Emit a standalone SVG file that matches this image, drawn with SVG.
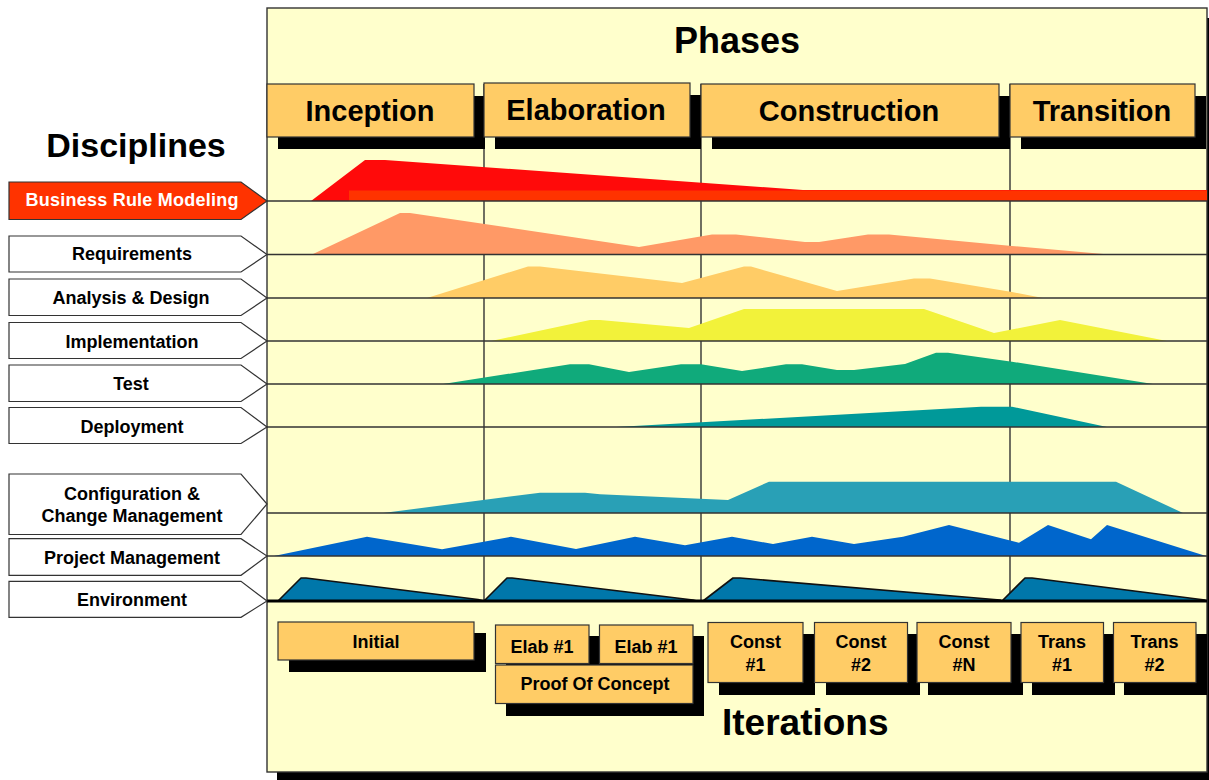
<svg xmlns="http://www.w3.org/2000/svg" width="1209" height="780" viewBox="0 0 1209 780">
  <style>
    text { font-family: "Liberation Sans", Arial, sans-serif; font-weight: bold; fill: #000; }
    .title { font-size: 36px; }
    .phase { font-size: 29px; text-anchor: middle; }
    .lbl { font-size: 18px; text-anchor: middle; }
    .box { fill: #FFCC66; stroke: #333; stroke-width: 1.2; }
    .shadow { fill: #000; }
    .tag { fill: #FFFFFF; stroke: #333; stroke-width: 1.2; }
    .grid { stroke: #333; stroke-width: 1.4; fill: none; }
    .env { fill: #0077AA; stroke: #111; stroke-width: 1.6; stroke-linejoin: round; }
  </style>

  <!-- white page -->
  <rect x="0" y="0" width="1209" height="780" fill="#FFFFFF"/>

  <!-- main chart panel with drop shadow -->
  <g id="panel">
    <rect x="277" y="18" width="940" height="770" class="shadow"/>
    <rect x="267" y="8" width="940" height="764" fill="#FFFFCC" stroke="#333" stroke-width="1.4"/>
  </g>

  <text id="phases-title" class="title" x="737" y="53" text-anchor="middle">Phases</text>
  <text id="disciplines-title" class="title" x="136" y="157" text-anchor="middle" style="font-size:34px">Disciplines</text>

  <!-- phase boundaries and discipline row lines -->
  <g id="connectors">
    <g class="grid">
      <line x1="484" y1="84" x2="484" y2="601"/>
      <line x1="701" y1="84" x2="701" y2="601"/>
      <line x1="1010" y1="84" x2="1010" y2="601"/>
    </g>
  </g>

  <!-- effort curves per discipline -->
  <g id="curves">
    <polygon id="curve-brm" fill="#FF0A0A" points="311,201 365,160 385,160 803,190 1207,190 1207,201"/>
    <rect x="349" y="190.5" width="858" height="10.5" fill="#FF3300"/>
    <polygon id="curve-req" fill="#FF9966" points="312,254.5 400,213 410,213 639,247 712,234.5 736,234.5 805,242 819,242 868,234.5 889,234.5 1012,246 1109,254.5"/>
    <polygon id="curve-ad" fill="#FFCC66" points="427,298 528,266.5 540,266.5 682,283 744,266.5 751,266.5 837,291 914,278.5 930,278.5 1012,292 1043,298"/>
    <polygon id="curve-impl" fill="#F2F23A" points="491,341 590,320 600,320 689,328 744,309 924,309 994,333 1060,320 1167,341"/>
    <polygon id="curve-test" fill="#10AA7B" points="443,384 570,364.3 589,364.3 629,372 681,364.3 701,364.3 742,371 786,364.3 802,364.3 837,370 854,370 905,364 936,352.7 948,352.7 1012,361.7 1153,384"/>
    <polygon id="curve-deploy" fill="#009999" points="616,427 981,406.7 1012,406.7 1107,427"/>
    <polygon id="curve-ccm" fill="#29A0B6" points="383,513 540,492.7 585,492.7 600,494.3 728,500 769,481.7 1116,481.7 1183,513"/>
    <polygon id="curve-pm" fill="#0066CC" points="274,556 367,536.7 442,549.3 511,536.7 576,549 635,536.7 685,545.3 732,536.7 773,544 812,536.7 854,544 903,536.7 949,525 1019,542.7 1048,525 1091,539.3 1107,525 1206,556"/>
    <polygon class="env" points="278,601 301,578 306,578 478,599.5 484,601"/>
    <polygon class="env" points="484,601 507,578 512,578 693,600 697,601"/>
    <polygon class="env" points="703,601 733,578 740,578 1000,600 1002,601"/>
    <polygon class="env" points="1002,601 1025,578 1032,578 1205,600 1206,601"/>
  </g>

  <g id="row-lines" class="grid">
    <line x1="267" y1="201" x2="1207" y2="201"/>
    <line x1="267" y1="254.5" x2="1207" y2="254.5"/>
    <line x1="267" y1="298" x2="1207" y2="298"/>
    <line x1="267" y1="341" x2="1207" y2="341"/>
    <line x1="267" y1="384" x2="1207" y2="384"/>
    <line x1="267" y1="427" x2="1207" y2="427"/>
    <line x1="267" y1="513" x2="1207" y2="513"/>
    <line x1="267" y1="556" x2="1207" y2="556"/>
    <line x1="267" y1="601" x2="1207" y2="601" stroke="#000" stroke-width="3"/>
  </g>

  <!-- phase headers -->
  <g id="phase-inception">
    <rect x="278" y="96" width="207" height="53" class="shadow"/>
    <rect x="267" y="84" width="207" height="53" class="box"/>
    <text class="phase" x="370" y="121">Inception</text>
  </g>
  <g id="phase-elaboration">
    <rect x="495" y="95" width="206" height="54" class="shadow"/>
    <rect x="484" y="83" width="206" height="54" class="box"/>
    <text class="phase" x="586" y="120">Elaboration</text>
  </g>
  <g id="phase-construction">
    <rect x="712" y="96" width="298" height="53" class="shadow"/>
    <rect x="701" y="84" width="298" height="53" class="box"/>
    <text class="phase" x="849" y="121">Construction</text>
  </g>
  <g id="phase-transition">
    <rect x="1021" y="96" width="185" height="53" class="shadow"/>
    <rect x="1010" y="84" width="185" height="53" class="box"/>
    <text class="phase" x="1102" y="121">Transition</text>
  </g>

  <!-- discipline tags -->
  <g id="tag-brm">
    <polygon points="9,182 241,182 267,201 241,219.5 9,219.5" fill="#FF3300" stroke="#333" stroke-width="1.2"/>
    <text class="lbl" x="132" y="206" style="fill:#FFFFFF" textLength="213" lengthAdjust="spacing">Business Rule Modeling</text>
  </g>
  <g id="tag-requirements">
    <polygon class="tag" points="9,236 241,236 267,254.5 241,272 9,272"/>
    <text class="lbl" x="132" y="260">Requirements</text>
  </g>
  <g id="tag-analysis">
    <polygon class="tag" points="9,279 241,279 267,298 241,315.5 9,315.5"/>
    <text class="lbl" x="131" y="303.5">Analysis &amp; Design</text>
  </g>
  <g id="tag-implementation">
    <polygon class="tag" points="9,322.5 241,322.5 267,341 241,358.5 9,358.5"/>
    <text class="lbl" x="132" y="347.5">Implementation</text>
  </g>
  <g id="tag-test">
    <polygon class="tag" points="9,365 241,365 267,384 241,401.5 9,401.5"/>
    <text class="lbl" x="131" y="390">Test</text>
  </g>
  <g id="tag-deployment">
    <polygon class="tag" points="9,407.5 241,407.5 267,427 241,443.5 9,443.5"/>
    <text class="lbl" x="132" y="433">Deployment</text>
  </g>
  <g id="tag-ccm">
    <polygon class="tag" points="9,474 241,474 267,504 241,534.5 9,534.5"/>
    <text class="lbl" x="132" y="499.5">Configuration &amp;</text>
    <text class="lbl" x="132" y="522">Change Management</text>
  </g>
  <g id="tag-pm">
    <polygon class="tag" points="9,538.7 241,538.7 267,556 241,575.3 9,575.3"/>
    <text class="lbl" x="132" y="563.5">Project Management</text>
  </g>
  <g id="tag-environment">
    <polygon class="tag" points="9,581.3 241,581.3 267,601 241,617.3 9,617.3"/>
    <text class="lbl" x="132" y="606">Environment</text>
  </g>

  <!-- iterations -->
  <g id="iter-initial">
    <rect x="289" y="633" width="197" height="39" class="shadow"/>
    <rect x="278" y="622" width="196" height="38" class="box"/>
    <text class="lbl" x="376" y="647.5">Initial</text>
  </g>
  <g id="iter-elab">
    <rect x="506" y="636" width="198" height="80" class="shadow"/>
    <rect x="495.5" y="625" width="93.5" height="38.5" class="box"/>
    <text class="lbl" x="542" y="652.5">Elab #1</text>
    <rect x="599.5" y="625" width="93.5" height="38.5" class="box"/>
    <text class="lbl" x="646" y="652.5">Elab #1</text>
    <rect x="495.5" y="665" width="197.5" height="38.5" class="box"/>
    <text class="lbl" x="595" y="689.5">Proof Of Concept</text>
  </g>
  <g id="iter-const1">
    <rect x="719" y="634" width="96" height="61" class="shadow"/>
    <rect x="708" y="622.5" width="95" height="60" class="box"/>
    <text class="lbl" x="755.5" y="648">Const</text>
    <text class="lbl" x="755.5" y="671">#1</text>
  </g>
  <g id="iter-const2">
    <rect x="826" y="634" width="94" height="61" class="shadow"/>
    <rect x="814.5" y="622.5" width="93" height="60" class="box"/>
    <text class="lbl" x="861" y="648">Const</text>
    <text class="lbl" x="861" y="671">#2</text>
  </g>
  <g id="iter-constN">
    <rect x="928" y="634" width="95" height="61" class="shadow"/>
    <rect x="917" y="622.5" width="94" height="60" class="box"/>
    <text class="lbl" x="964" y="648">Const</text>
    <text class="lbl" x="964" y="671">#N</text>
  </g>
  <g id="iter-trans1">
    <rect x="1032" y="634" width="83" height="61" class="shadow"/>
    <rect x="1021" y="622.5" width="82.5" height="60" class="box"/>
    <text class="lbl" x="1062" y="648">Trans</text>
    <text class="lbl" x="1062" y="671">#1</text>
  </g>
  <g id="iter-trans2">
    <rect x="1124" y="634" width="83" height="61" class="shadow"/>
    <rect x="1113.5" y="622.5" width="82.5" height="60" class="box"/>
    <text class="lbl" x="1154.5" y="648">Trans</text>
    <text class="lbl" x="1154.5" y="671">#2</text>
  </g>

  <text id="iterations-title" class="title" x="722" y="735" style="font-size:37px">Iterations</text>
</svg>
